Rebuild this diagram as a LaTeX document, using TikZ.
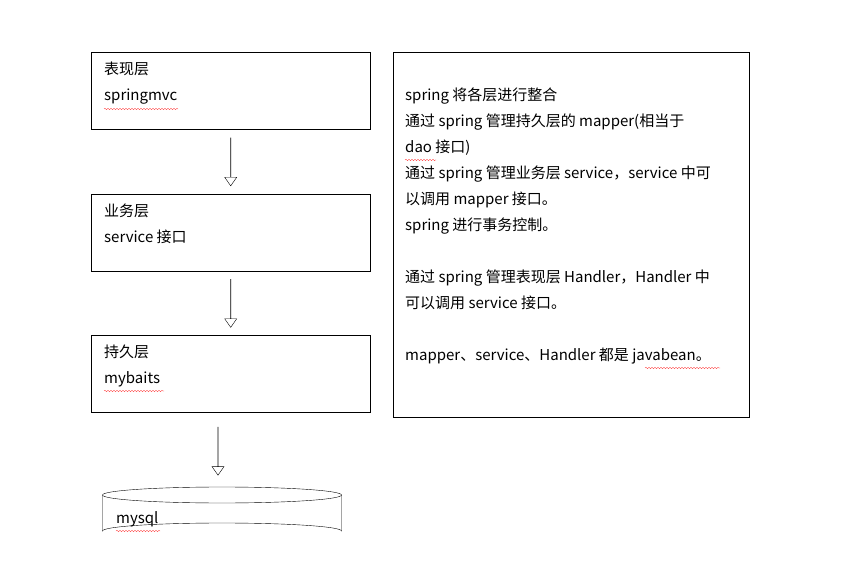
\documentclass[tikz,border=0pt]{standalone}
\usepackage{fontspec}
\setmainfont{Noto Sans CJK SC}
\usetikzlibrary{calc,shapes.arrows,decorations.pathmorphing}
\tikzset{
  layer/.style={ % one box of the layer stack
    draw, thin, rectangle, minimum width=279pt, minimum height=77pt,
    anchor=north west, align=left, inner sep=0pt
  },
  layertext/.style={anchor=north west, align=left, inner sep=0pt, font=\fontsize{15pt}{25.5pt}\selectfont},
  downarrow/.style={ % hollow block arrow
    draw, single arrow, rotate=-90, minimum height=48pt, minimum width=12pt,
    single arrow head extend=5pt, single arrow tip angle=70, inner sep=0pt
  },
  squiggle/.style={red, very thin, decorate, decoration={snake, amplitude=0.8pt, segment length=3pt}}
}
\begin{document}
\begin{tikzpicture}[x=1pt,y=-1pt]
    \useasboundingbox (0,0) rectangle (863,572);

    \node[layer] (pres) at (91,52) {};
    \node[layer] (biz) at (91,194) {};
    \node[layer] (dao) at (91,335) {};
    \node[layertext] (pres_t) at (104,62) {表现层\\springmvc};
    \node[layertext] (biz_t) at (104,204) {业务层\\service 接口};
    \node[layertext] (dao_t) at (104,345) {持久层\\mybaits};

    % database drum
    \draw[thin] (222,495) ellipse [x radius=119.5, y radius=8];
    \draw[thin] (102.5,495) -- (102.5,531) arc [start angle=180, end angle=360, x radius=119.5, y radius=8] -- (341.5,495);
    \node[layertext] (db_t) at (116,511) {mysql};

    \node[downarrow] (a1) at ($(pres.south)!0.5!(biz.north)$) {};
    \node[downarrow] (a2) at ($(biz.south)!0.5!(dao.north)$) {};
    \node[downarrow] (a3) at ($(218,427)!0.5!(218,475)$) {};

    \node[draw, thin, rectangle, minimum width=356pt, minimum height=365pt,
      anchor=north west] (note) at (393,52) {};
    \node[layertext, font=\fontsize{15pt}{26pt}\selectfont] (note_t) at (405,88) {spring 将各层进行整合\\
      通过 spring 管理持久层的 mapper(相当于\\
      dao 接口)\\
      通过 spring 管理业务层 service，service 中可\\
      以调用 mapper 接口。\\
      spring 进行事务控制。\\[26pt]
      通过 spring 管理表现层 Handler，Handler 中\\
      可以调用 service 接口。\\[26pt]
      mapper、service、Handler 都是 javabean。};

    % spell-check marks
    \draw[squiggle] (104,109) -- (178,109);
    \draw[squiggle] (104,391) -- (164,391);
    \draw[squiggle] (116,531) -- (160,531);
    \draw[squiggle] (405,160) -- (436,160);
    \draw[squiggle] (645,368) -- (720,368);
\end{tikzpicture}
\end{document}
